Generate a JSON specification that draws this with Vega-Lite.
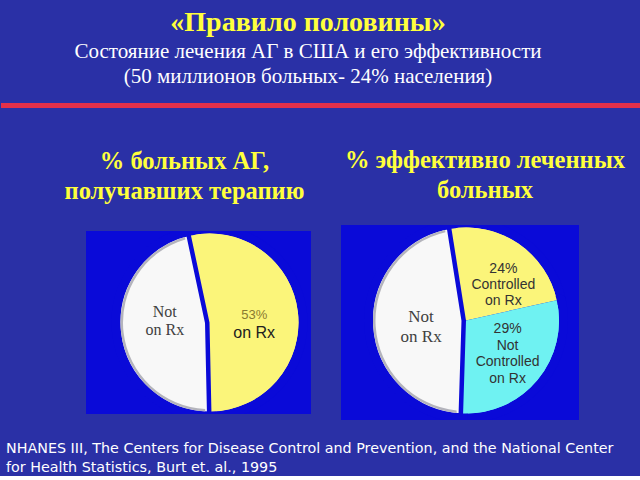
{
  "$schema": "https://vega.github.io/schema/vega-lite/v6.json",
  "background": "#2a30a6",
  "padding": {"top": 8, "left": 0, "right": 0, "bottom": 0},
  "bounds": "flush",
  "spacing": 117,
  "config": {"view": {"stroke": null}},
  "vconcat": [
    {
      "width": 640,
      "height": 5,
      "view": {"fill": "#e3304a", "stroke": null},
      "title": {
        "text": "«Правило половины»",
        "subtitle": ["Состояние лечения АГ в США и его эффективности", "(50 миллионов больных- 24% населения)"],
        "anchor": "middle",
        "frame": "group",
        "dx": -13,
        "font": "Liberation Serif",
        "fontSize": 28,
        "fontWeight": "bold",
        "color": "#ffff3c",
        "subtitleFont": "Liberation Serif",
        "subtitleFontSize": 21,
        "subtitleColor": "#ffffff",
        "subtitleLineHeight": 25,
        "subtitlePadding": 4,
        "offset": 16
      },
      "data": {"values": [{"a": 1}]},
      "mark": {"type": "rule", "opacity": 0},
      "encoding": {}
    },
    {
      "bounds": "flush",
      "center": true,
      "spacing": 30,
      "resolve": {"scale": {"color": "independent", "theta": "independent"}},
      "title": {
        "text": ["NHANES III, The Centers for Disease Control and Prevention, and the National Center", "for Health Statistics,  Burt et. al., 1995"],
        "orient": "bottom",
        "anchor": "start",
        "frame": "group",
        "dx": 5,
        "offset": 22,
        "font": "DejaVu Sans",
        "fontSize": 14.3,
        "fontWeight": "normal",
        "color": "#ffffff",
        "lineHeight": 19
      },
      "hconcat": [
        {
          "width": 55,
          "height": 10,
          "view": {"stroke": null, "fill": null},
          "data": {"values": []},
          "mark": "point"
        },
        {
          "width": 225,
          "height": 183,
          "view": {"fill": "#0a0ad8", "stroke": null},
          "title": {
            "text": ["% больных АГ,", "получавших терапию"],
            "anchor": "middle",
            "frame": "group",
            "dx": -14,
            "offset": 27,
            "font": "Liberation Serif",
            "fontSize": 24.5,
            "fontWeight": "bold",
            "color": "#ffff3c",
            "lineHeight": 30
          },
          "data": {"values": [
            {"slice": "on Rx", "value": 53, "ord": 1, "serif": "", "top": "53%", "bot": "on Rx"},
            {"slice": "Not on Rx", "value": 47, "ord": 2, "serif": "Not\non Rx", "top": "", "bot": ""}
          ]},
          "transform": [{"stack": "value", "groupby": [], "sort": [{"field": "ord", "order": "ascending"}], "as": ["v0", "v1"]}],
          "layer": [
            {
              "mark": {"type": "arc", "outerRadius": 93.5, "stroke": "#0a0ad8", "strokeWidth": 9, "strokeJoin": "round", "xOffset": 11, "clip": true},
              "encoding": {
                "theta": {"field": "v0", "type": "quantitative", "scale": {"domain": [0, 100], "range": [-0.21, 6.073]}},
                "theta2": {"field": "v1"},
                "color": {"field": "slice", "type": "nominal", "scale": {"domain": ["on Rx", "Not on Rx"], "range": ["#fbf57a", "#f8f8f8"]}, "legend": null}
              }
            },
            {
              "transform": [{"filter": "datum.slice != 'Not on Rx'"}],
              "mark": {"type": "arc", "outerRadius": 89, "xOffset": 11},
              "encoding": {
                "theta": {"field": "v0", "type": "quantitative"},
                "theta2": {"field": "v1"},
                "color": {"field": "slice", "type": "nominal", "legend": null}
              }
            },
            {
              "transform": [{"filter": "datum.slice == 'Not on Rx'"}],
              "mark": {"type": "arc", "innerRadius": 86.5, "outerRadius": 89, "padAngle": 0.1, "xOffset": 11, "color": "#b4b4bc"},
              "encoding": {
                "theta": {"field": "v0", "type": "quantitative"},
                "theta2": {"field": "v1"}
              }
            },
            {
              "mark": {"type": "text", "radius": 45, "xOffset": 11, "dy": -16, "font": "Liberation Serif", "fontSize": 16, "color": "#404040", "lineBreak": "\n", "lineHeight": 18},
              "encoding": {
                "theta": {"field": "value", "type": "quantitative", "stack": true},
                "order": {"field": "ord", "type": "quantitative"},
                "text": {"field": "serif"}
              }
            },
            {
              "mark": {"type": "text", "radius": 45, "xOffset": 11, "dy": -2, "font": "Liberation Sans", "fontSize": 13, "color": "#8a7a30"},
              "encoding": {
                "theta": {"field": "value", "type": "quantitative", "stack": true},
                "order": {"field": "ord", "type": "quantitative"},
                "text": {"field": "top"}
              }
            },
            {
              "mark": {"type": "text", "radius": 45, "xOffset": 11, "dy": 16, "font": "Liberation Sans", "fontSize": 16, "color": "#202020"},
              "encoding": {
                "theta": {"field": "value", "type": "quantitative", "stack": true},
                "order": {"field": "ord", "type": "quantitative"},
                "text": {"field": "bot"}
              }
            }
          ]
        },
        {
          "width": 238,
          "height": 195,
          "view": {"fill": "#0a0ad8", "stroke": null},
          "title": {
            "text": ["% эффективно леченных", "больных"],
            "anchor": "middle",
            "frame": "group",
            "dx": 25,
            "offset": 22,
            "font": "Liberation Serif",
            "fontSize": 24.5,
            "fontWeight": "bold",
            "color": "#ffff3c",
            "lineHeight": 30
          },
          "data": {"values": [
            {"slice": "Controlled on Rx", "value": 24, "ord": 1, "serif": "", "sans": "24%\nControlled\non Rx"},
            {"slice": "Not Controlled on Rx", "value": 29, "ord": 2, "serif": "", "sans": "29%\nNot\nControlled\non Rx"},
            {"slice": "Not on Rx", "value": 47, "ord": 3, "serif": "Not\non Rx", "sans": ""}
          ]},
          "transform": [{"stack": "value", "groupby": [], "sort": [{"field": "ord", "order": "ascending"}], "as": ["v0", "v1"]}],
          "layer": [
            {
              "mark": {"type": "arc", "outerRadius": 97.5, "stroke": "#0a0ad8", "strokeWidth": 9, "strokeJoin": "round", "xOffset": 6, "yOffset": -2, "clip": true},
              "encoding": {
                "theta": {"field": "v0", "type": "quantitative", "scale": {"domain": [0, 100], "range": [-0.157, 6.126]}},
                "theta2": {"field": "v1"},
                "color": {"field": "slice", "type": "nominal", "scale": {"domain": ["Controlled on Rx", "Not Controlled on Rx", "Not on Rx"], "range": ["#fbf57a", "#6ff2f2", "#f8f8f8"]}, "legend": null}
              }
            },
            {
              "transform": [{"filter": "datum.slice != 'Not on Rx'"}],
              "mark": {"type": "arc", "outerRadius": 93, "xOffset": 6, "yOffset": -2},
              "encoding": {
                "theta": {"field": "v0", "type": "quantitative"},
                "theta2": {"field": "v1"},
                "color": {"field": "slice", "type": "nominal", "legend": null}
              }
            },
            {
              "transform": [{"filter": "datum.slice == 'Not on Rx'"}],
              "mark": {"type": "arc", "innerRadius": 90.5, "outerRadius": 93, "padAngle": 0.1, "xOffset": 6, "yOffset": -2, "color": "#b4b4bc"},
              "encoding": {
                "theta": {"field": "v0", "type": "quantitative"},
                "theta2": {"field": "v1"}
              }
            },
            {
              "mark": {"type": "text", "radius": 45, "xOffset": 6, "yOffset": -2, "dy": -6, "font": "Liberation Serif", "fontSize": 17, "color": "#404040", "lineBreak": "\n", "lineHeight": 20},
              "encoding": {
                "theta": {"field": "value", "type": "quantitative", "stack": true},
                "order": {"field": "ord", "type": "quantitative"},
                "text": {"field": "serif"}
              }
            },
            {
              "mark": {"type": "text", "radius": 54, "xOffset": 6, "yOffset": -2, "dx": 7, "dy": -7, "font": "Liberation Sans", "fontSize": 14, "color": "#333333", "lineBreak": "\n", "lineHeight": 16},
              "encoding": {
                "theta": {"field": "value", "type": "quantitative", "stack": true},
                "order": {"field": "ord", "type": "quantitative"},
                "text": {"condition": {"test": "datum.ord == 1", "field": "sans"}, "value": ""}
              }
            },
            {
              "mark": {"type": "text", "radius": 54, "xOffset": 6, "yOffset": -2, "dy": -26, "font": "Liberation Sans", "fontSize": 14, "color": "#333333", "lineBreak": "\n", "lineHeight": 16.7},
              "encoding": {
                "theta": {"field": "value", "type": "quantitative", "stack": true},
                "order": {"field": "ord", "type": "quantitative"},
                "text": {"condition": {"test": "datum.ord == 2", "field": "sans"}, "value": ""}
              }
            }
          ]
        }
      ]
    }
  ]
}
